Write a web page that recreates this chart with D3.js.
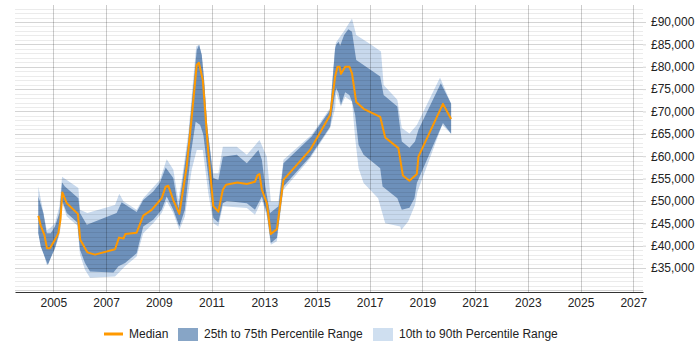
<!DOCTYPE html>
<html>
<head>
<meta charset="utf-8">
<script src="https://cdn.jsdelivr.net/npm/d3@7"></script>
<style>
  body { margin: 0; background: #fff; }
  svg text { font-family: "Liberation Sans", Arial, sans-serif; }
</style>
</head>
<body>
<svg id="chart" width="700" height="350"></svg>
<script>
// [year, salary] pairs
const median = [
  [2004.43, 46700], [2004.52, 44500], [2004.66, 42400], [2004.76, 39400], [2004.87, 39400],
  [2005.06, 41300], [2005.19, 42800], [2005.27, 45800], [2005.34, 51900], [2005.51, 49500],
  [2005.93, 47100], [2006.02, 41300], [2006.29, 38500], [2006.58, 38000], [2007.34, 39200],
  [2007.49, 41800], [2007.66, 41600], [2007.73, 42600], [2008.16, 42900], [2008.41, 46700],
  [2008.73, 48000], [2009.11, 50600], [2009.26, 53200], [2009.36, 53400], [2009.55, 50200],
  [2009.78, 47100], [2010.06, 57700], [2010.25, 68800], [2010.44, 80400], [2010.52, 80900],
  [2010.67, 77000], [2010.88, 60700], [2011.07, 48800], [2011.26, 47600], [2011.43, 52500],
  [2011.55, 53600], [2011.98, 54100], [2012.34, 53800], [2012.65, 54300], [2012.74, 55700],
  [2012.82, 56000], [2012.91, 52500], [2013.10, 49500], [2013.25, 42600], [2013.48, 43700],
  [2013.73, 54700], [2014.74, 61400], [2015.50, 69200], [2015.69, 77800], [2015.78, 80000],
  [2015.86, 80000], [2015.91, 78400], [2016.07, 80000], [2016.23, 80000], [2016.33, 78500],
  [2016.49, 72100], [2016.77, 70600], [2017.40, 68800], [2017.59, 64200], [2018.09, 61800],
  [2018.26, 55700], [2018.51, 54500], [2018.79, 56000], [2018.85, 59900], [2019.78, 71700],
  [2020.09, 68300]
];

const p75 = [
  [2004.43, 51000], [2004.62, 47300], [2004.75, 42800], [2004.90, 42800], [2005.06, 44300],
  [2005.23, 47300], [2005.33, 54100], [2005.44, 53200], [2005.95, 50600], [2006.01, 47300],
  [2006.27, 44700], [2007.40, 47300], [2007.59, 49700], [2008.16, 47500], [2008.41, 50200],
  [2008.79, 52100], [2009.04, 54000], [2009.26, 57500], [2009.55, 55100], [2009.74, 48400],
  [2009.87, 53200], [2010.12, 63600], [2010.38, 80000], [2010.44, 83700], [2010.53, 84900],
  [2010.63, 82600], [2010.72, 77000], [2010.84, 66600], [2011.07, 55100], [2011.26, 54700],
  [2011.43, 59900], [2011.96, 60300], [2012.34, 58400], [2012.78, 61400], [2012.91, 59200],
  [2013.04, 53200], [2013.22, 47300], [2013.54, 48800], [2013.73, 58400], [2014.80, 64400],
  [2015.50, 70300], [2015.69, 84100], [2015.73, 84900], [2015.82, 85600], [2015.88, 84700],
  [2016.03, 87100], [2016.19, 88400], [2016.33, 87800], [2016.49, 81500], [2016.99, 79500],
  [2017.40, 77800], [2017.53, 73700], [2018.05, 71100], [2018.22, 63300], [2018.51, 61900],
  [2018.72, 63300], [2018.85, 65900], [2019.70, 76300], [2020.09, 71700]
];

const p25 = [
  [2004.43, 42800], [2004.52, 39800], [2004.62, 38300], [2004.79, 35700], [2005.06, 39500],
  [2005.19, 42100], [2005.34, 49900], [2005.51, 47300], [2005.91, 45200], [2006.01, 39100],
  [2006.20, 36100], [2006.39, 34200], [2007.28, 34000], [2007.47, 35400], [2007.72, 36100],
  [2008.16, 38300], [2008.41, 44300], [2008.79, 45800], [2009.11, 48000], [2009.30, 51000],
  [2009.55, 48000], [2009.78, 44300], [2009.99, 48000], [2010.22, 60700], [2010.40, 67700],
  [2010.57, 67000], [2010.69, 64800], [2010.88, 55400], [2011.07, 46200], [2011.26, 45200],
  [2011.43, 49500], [2011.58, 50000], [2012.34, 49500], [2012.65, 48000], [2012.91, 51000],
  [2013.10, 47300], [2013.25, 40600], [2013.48, 41700], [2013.73, 53200], [2014.74, 59900],
  [2015.50, 66600], [2015.69, 74100], [2015.73, 75200], [2015.82, 74100], [2015.91, 71500],
  [2016.07, 74300], [2016.23, 73700], [2016.33, 72200], [2016.45, 69200], [2016.58, 62500],
  [2016.77, 60300], [2017.40, 57300], [2017.49, 53200], [2018.05, 50600], [2018.22, 48000],
  [2018.51, 48500], [2018.70, 50600], [2018.79, 54000], [2019.78, 67400], [2020.09, 65000]
];

const p90 = [
  [2004.43, 53200], [2004.75, 43500], [2004.87, 43900], [2005.06, 45000], [2005.23, 48800],
  [2005.33, 55400], [2005.51, 54700], [2005.95, 52900], [2006.01, 48000], [2006.29, 47300],
  [2007.34, 49100], [2007.50, 51600], [2007.66, 49900], [2008.16, 48000], [2008.41, 50600],
  [2009.04, 54700], [2009.30, 59300], [2009.55, 57000], [2009.74, 50200], [2009.87, 54700],
  [2010.12, 65100], [2010.42, 84500], [2010.53, 84900], [2010.63, 82600], [2010.72, 77000],
  [2010.84, 66600], [2011.07, 56200], [2011.26, 56200], [2011.43, 62100], [2011.96, 62100],
  [2012.34, 60300], [2012.82, 63600], [2013.10, 59900], [2013.25, 49900], [2013.54, 49900],
  [2013.73, 59200], [2014.80, 64800], [2015.50, 70800], [2015.69, 84500], [2015.73, 85500],
  [2016.03, 88000], [2016.33, 90800], [2016.49, 87100], [2016.99, 85200], [2017.43, 83400],
  [2017.53, 75900], [2018.05, 72600], [2018.22, 66300], [2018.51, 65100], [2018.79, 67000],
  [2019.67, 77600], [2020.09, 71700]
];

const p10 = [
  [2004.43, 42700], [2004.75, 35700], [2005.06, 39200], [2005.25, 42800], [2005.34, 49500],
  [2005.51, 46500], [2005.91, 44500], [2006.01, 38000], [2006.20, 34600], [2006.39, 32800],
  [2007.34, 33100], [2007.53, 34200], [2007.72, 35400], [2008.16, 37600], [2008.41, 42800],
  [2008.79, 45000], [2009.11, 47300], [2009.30, 49900], [2009.55, 47300], [2009.78, 43500],
  [2009.99, 46500], [2010.25, 57000], [2010.44, 61400], [2010.67, 61400], [2010.88, 51700],
  [2011.07, 45000], [2011.26, 44300], [2011.43, 48800], [2012.34, 48400], [2012.65, 46900],
  [2012.91, 50200], [2013.10, 46500], [2013.25, 40200], [2013.48, 41000], [2013.73, 52500],
  [2014.74, 59500], [2015.50, 66300], [2015.69, 70700], [2015.73, 74100], [2015.91, 71100],
  [2016.07, 73300], [2016.33, 72200], [2016.45, 64000], [2016.58, 57300], [2016.77, 54000],
  [2017.32, 50600], [2017.59, 45000], [2018.16, 44300], [2018.20, 43500], [2018.46, 45400],
  [2018.72, 49100], [2018.81, 52000], [2019.75, 67000], [2020.09, 65000]
];

const yearTicks = [2005, 2007, 2009, 2011, 2013, 2015, 2017, 2019, 2021, 2023, 2025, 2027];
const salaryTicks = [35000, 40000, 45000, 50000, 55000, 60000, 65000, 70000, 75000, 80000, 85000, 90000];
const minorTicks = d3.range(30000, 94000, 1000);
const legendLabels = ['Median', '25th to 75th Percentile Range', '10th to 90th Percentile Range'];

const svg = d3.select('svg#chart');
const plot = {left: 15, right: 643, top: 5, bottom: 292};

const x = d3.scaleLinear().domain([2003.545, 2027.37]).range([plot.left, plot.right]);
const y = d3.scaleLinear().domain([29640, 93800]).range([plot.bottom, plot.top]);

const line = d3.line().x(d => x(d[0])).y(d => y(d[1]));

// band = upper edge forward, lower edge back
function band(upper, lower) {
  return line(upper.concat(lower.slice().reverse())) + 'Z';
}

svg.append('path').attr('d', band(p90, p10)).attr('fill', '#c8d9ed');
svg.append('path').attr('d', band(p75, p25)).attr('fill', '#6d90ba');

// grid on top, faint so the bands show through
svg.append('g')
  .attr('class', 'hgrid')
  .attr('shape-rendering', 'crispEdges')
  .selectAll('line')
  .data(minorTicks)
  .join('line')
  .attr('x1', plot.left)
  .attr('x2', plot.right)
  .attr('y1', d => Math.round(y(d)))
  .attr('y2', d => Math.round(y(d)))
  .attr('stroke', '#000')
  .attr('stroke-opacity', d => d % 5000 === 0 ? 0.17 : 0.08);

svg.append('g')
  .attr('class', 'vgrid')
  .attr('shape-rendering', 'crispEdges')
  .selectAll('line')
  .data(yearTicks)
  .join('line')
  .attr('x1', d => Math.round(x(d)))
  .attr('x2', d => Math.round(x(d)))
  .attr('y1', plot.top)
  .attr('y2', plot.bottom)
  .attr('stroke', '#000')
  .attr('stroke-opacity', 0.2);

svg.append('path')
  .attr('d', line(median))
  .attr('fill', 'none')
  .attr('stroke', '#ff9900')
  .attr('stroke-width', 2)
  .attr('stroke-linejoin', 'round');

// x axis
const xAxis = svg.append('g')
  .attr('transform', `translate(0,${plot.bottom})`)
  .call(d3.axisBottom(x).tickValues(yearTicks).tickFormat(d3.format('d')).tickSize(0).tickPadding(6));
xAxis.select('.domain').attr('stroke', '#333').attr('stroke-width', 1.2);
xAxis.selectAll('text').attr('font-size', 12).attr('fill', '#222');

// y axis on the right
const yAxis = svg.append('g')
  .attr('transform', `translate(${plot.right},0)`)
  .call(d3.axisRight(y).tickValues(salaryTicks).tickFormat(d => '£' + d3.format(',')(d)).tickSize(3).tickPadding(5));
yAxis.select('.domain').remove();
yAxis.selectAll('.tick line').attr('stroke', 'rgba(0,0,0,0.17)');
yAxis.selectAll('text').attr('font-size', 12).attr('fill', '#222');

// legend
const legend = svg.append('g').attr('font-size', 12).attr('fill', '#222');
legend.append('line')
  .attr('x1', 104).attr('x2', 123).attr('y1', 334).attr('y2', 334)
  .attr('stroke', '#ff9900').attr('stroke-width', 3);
legend.append('text').attr('x', 129).attr('y', 338).text(legendLabels[0]);
legend.append('rect').attr('x', 178).attr('y', 328).attr('width', 20).attr('height', 13).attr('fill', '#87a5c6');
legend.append('text').attr('x', 204).attr('y', 338).text(legendLabels[1]);
legend.append('rect').attr('x', 373).attr('y', 328).attr('width', 20).attr('height', 13).attr('fill', '#cfdff0');
legend.append('text').attr('x', 399).attr('y', 338).text(legendLabels[2]);
</script>
</body>
</html>
